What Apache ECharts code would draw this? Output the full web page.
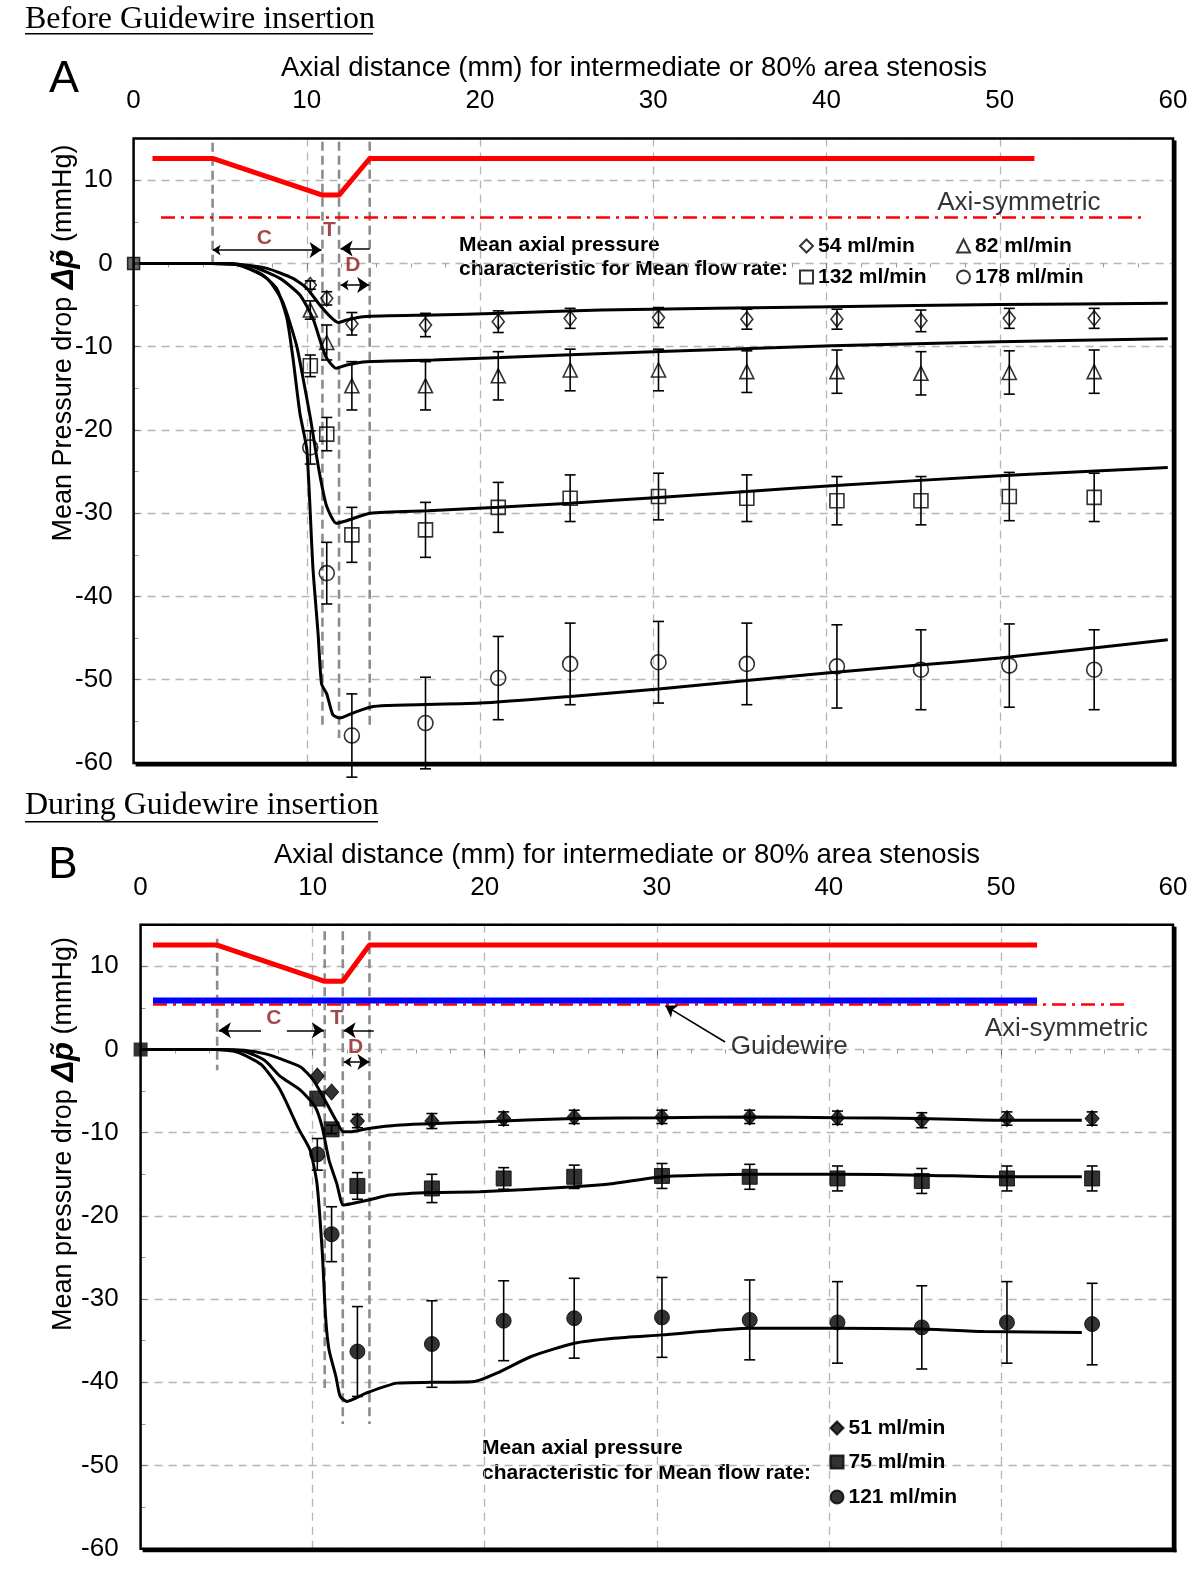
<!DOCTYPE html>
<html><head><meta charset="utf-8">
<script src="https://cdn.jsdelivr.net/npm/echarts@6/dist/echarts.min.js"></script>
<style>html,body{margin:0;padding:0;background:#fff}#c{width:1200px;height:1574px}</style>
</head><body><div id="c"></div>
<script>
// ---------- axis settings ----------
const xMin = 0, xMax = 60, xStep = 10;
const yMin = -60, yMax = 15, yStep = 10;

// ---------- Panel A: before guidewire insertion ----------
const xA = [10.2, 11.15, 12.6, 16.85, 21.05, 25.2, 30.3, 35.4, 40.6, 45.45, 50.55, 55.45];
const a54 = [-2.6, -4.2, -7.25, -7.4, -7.0, -6.6, -6.5, -6.7, -6.7, -6.9, -6.6, -6.6];
const a54Err = [0.5, 0.8, 1.35, 1.4, 1.3, 1.2, 1.2, 1.2, 1.2, 1.3, 1.2, 1.2];
const a82 = [-5.6, -9.5, -14.7, -14.7, -13.5, -12.8, -12.8, -13.0, -13.0, -13.2, -13.1, -13.0];
const a82Err = [1.1, 2.1, 2.9, 2.9, 2.9, 2.5, 2.5, 2.5, 2.6, 2.6, 2.6, 2.6];
const a132 = [-12.3, -20.5, -32.6, -32.0, -29.3, -28.2, -28.0, -28.2, -28.5, -28.5, -28.0, -28.1];
const a132Err = [1.3, 2.0, 3.3, 3.3, 3.0, 2.8, 2.8, 2.8, 2.9, 2.9, 2.9, 2.9];
const a178 = [-22.1, -37.2, -56.7, -55.2, -49.8, -48.1, -47.9, -48.1, -48.4, -48.8, -48.3, -48.8];
const a178Err = [2.0, 3.7, 5.0, 5.5, 5.0, 4.9, 4.9, 4.9, 5.0, 4.8, 5.0, 4.8];

const curveA54 = [[0,0],[4.5,0],[6,-0.1],[7.7,-0.6],[9.2,-1.8],[10.0,-3.0],[10.75,-5.0],[11.35,-6.4],[11.8,-7.1],[12.3,-6.8],[13.25,-6.4],[17.3,-6.2],[21.2,-6.0],[27,-5.6],[40.3,-5.2],[50,-4.95],[59.7,-4.8]];
const curveA82 = [[0,0],[4.5,0],[5.8,-0.1],[6.9,-0.4],[8.45,-1.8],[9.6,-3.8],[10.35,-6.6],[10.85,-9.8],[11.15,-11.4],[11.7,-12.6],[12.3,-12.2],[13.45,-11.8],[17.3,-11.6],[21.2,-11.3],[30,-10.6],[40.3,-9.9],[50,-9.4],[59.7,-9.05]];
const curveA132 = [[0,0],[4.5,0],[5.5,-0.05],[6.1,-0.15],[7.7,-1.8],[8.6,-4.6],[9.4,-9.8],[9.8,-14],[10.2,-18.5],[10.55,-23],[10.85,-26.5],[11.15,-29.2],[11.7,-31.2],[12.3,-30.9],[13.65,-30.0],[17,-29.7],[21.05,-29.3],[25.2,-28.8],[30.3,-28.1],[35.4,-27.4],[40.3,-26.7],[50,-25.5],[59.7,-24.5]];
const curveA178 = [[0,0],[4.5,0],[5.7,-0.05],[7.3,-1.2],[8.25,-3],[8.85,-6.6],[9.2,-11.4],[9.6,-18],[10.0,-22.4],[10.35,-36.5],[10.65,-44.5],[10.85,-50.5],[11.15,-51.7],[11.5,-54.2],[11.9,-54.6],[12.65,-54.0],[13.65,-53.3],[14.6,-53.1],[20.0,-52.8],[25.2,-52.0],[30.3,-51.1],[35.4,-50.1],[40,-49.2],[45,-48.3],[50,-47.4],[59.7,-45.2]];

const profileA = [[1.09,12.6],[4.56,12.6],[10.9,8.2],[11.86,8.2],[13.63,12.6],[52.0,12.6]];
const axiA = [[1.58,5.5],[58.26,5.5]];
const stenA = [[4.56,14.5,-0.5],[10.9,14.6,-56],[11.86,14.6,-57],[13.63,14.6,-56]];

// ---------- Panel B: during guidewire insertion ----------
const xB = [10.27, 11.1, 12.6, 16.93, 21.1, 25.2, 30.3, 35.4, 40.5, 45.4, 50.35, 55.3];
const b51 = [-3.2, -5.1, -8.6, -8.6, -8.3, -8.1, -8.1, -8.1, -8.2, -8.5, -8.3, -8.3];
const b51Err = [0, 0, 0.8, 0.9, 0.8, 0.8, 0.8, 0.8, 0.8, 0.9, 0.8, 0.8];
const b75 = [-5.9, -9.6, -16.4, -16.7, -15.5, -15.3, -15.2, -15.3, -15.5, -15.8, -15.5, -15.5];
const b75Err = [0, 0.5, 1.6, 1.7, 1.3, 1.4, 1.5, 1.5, 1.5, 1.5, 1.5, 1.5];
const b121 = [-12.6, -22.2, -36.3, -35.4, -32.6, -32.3, -32.2, -32.5, -32.8, -33.4, -32.8, -33.0];
const b121Err = [1.9, 3.3, 5.4, 5.2, 4.8, 4.8, 4.8, 4.8, 4.9, 5.0, 4.9, 4.9];

const curveB51 = [[0,0],[4.4,0],[6,-0.1],[7.2,-0.5],[8.1,-1.1],[9.3,-2.1],[10.05,-3.7],[10.82,-6.5],[11.4,-8.7],[11.78,-9.9],[12.17,-9.9],[13.24,-9.5],[14.9,-9.1],[19.7,-8.7],[25.2,-8.3],[30.3,-8.2],[35.4,-8.1],[40.5,-8.2],[45.4,-8.3],[50.4,-8.5],[54.7,-8.5]];
const curveB75 = [[0,0],[4.4,0],[6,-0.2],[7.2,-1.3],[8.1,-3.2],[9.3,-4.9],[10.15,-6.9],[10.55,-9.3],[10.95,-13.3],[11.4,-16.1],[11.78,-18.7],[12.3,-18.5],[13.24,-18.1],[14.5,-17.5],[16.9,-17.2],[19.7,-17.1],[25.2,-16.5],[27.5,-16.1],[30.3,-15.3],[35.4,-15.0],[40.5,-15.0],[45.4,-15.1],[50.4,-15.3],[54.7,-15.3]];
const curveB121 = [[0,0],[4.4,0],[5.6,-0.3],[7.0,-1.8],[8.1,-4.8],[9.2,-9.6],[9.85,-12.1],[10.25,-16.1],[10.55,-24.1],[10.75,-32.1],[10.95,-36.1],[11.35,-39.3],[11.6,-41.7],[12.0,-42.3],[13.1,-41.3],[14.9,-40.1],[16.9,-40],[19.4,-39.9],[20.7,-38.9],[22.7,-36.9],[25.2,-35.3],[27.5,-34.7],[30.3,-34.3],[35.4,-33.5],[40.5,-33.5],[45.4,-33.6],[49,-33.9],[54.7,-34]];

const profileB = [[0.72,12.55],[4.45,12.55],[10.7,8.2],[11.75,8.2],[13.3,12.55],[52.1,12.55]];
const guidewireB = [[0.72,5.9],[52.1,5.9]];
const axiB = [[0.72,5.4],[57.2,5.4]];
const stenB = [[4.45,13.3,-2.5],[10.7,14.2,-40.7],[11.75,14.2,-45],[13.3,14.2,-45]];

// ---------- annotations (data coordinates) ----------
const labelsA = [{name:'C', value:[7.55,3.0]}, {name:'T', value:[11.3,4.0]}, {name:'D', value:[12.65,-0.2]}];
const labelsB = [{name:'C', value:[7.75,3.8]}, {name:'T', value:[11.4,3.8]}, {name:'D', value:[12.5,0.3]}];
const textA = [{name:'Axi-symmetric', value:[51.1,7.25]}];
const textB = [{name:'Axi-symmetric', value:[53.8,2.46]}, {name:'Guidewire', value:[37.7,0.3]}];
const dblArrowsA = [[[4.56,1.6],[10.85,1.6]], [[11.95,-2.6],[13.6,-2.6]]];
const oneArrowsA = [[[13.63,1.8],[11.95,1.8]]];
const dblArrowsB = [[[11.8,-1.5],[13.3,-1.5]]];
const oneArrowsB = [[[7.0,2.3],[4.55,2.3]], [[8.5,2.3],[10.65,2.3]], [[13.55,2.3],[11.8,2.3]]];
const guideArrowB = [[[33.97,0.9],[30.5,5.25]]];

const FONT = "'Liberation Sans', Arial, Helvetica, sans-serif";
const SERIF = "'Liberation Serif', 'Times New Roman', serif";
const DARKRED = '#8b1a1a';

// plot frames (pixel boxes of the two grids)
const boxA = {left: 133.6, top: 138.5, width: 1039.4, height: 624.5};
const boxB = {left: 140.6, top: 924.7, width: 1032.4, height: 624};

function xAxisCfg(gi, margin) {
  return {
    gridIndex: gi, type: 'value', position: 'top', min: xMin, max: xMax, interval: xStep,
    axisLine: {show: false},
    axisTick: {show: true, inside: true, length: 6, lineStyle: {color: '#777', width: 1}},
    minorTick: {show: true, splitNumber: 5, length: 4, lineStyle: {color: '#999', width: 1}},
    axisLabel: {color: '#000', fontSize: 26, fontFamily: FONT, margin: margin},
    splitLine: {show: true, lineStyle: {color: '#b5b5b5', width: 1.3, type: [8, 6]}}
  };
}
function yAxisCfg(gi, margin) {
  return {
    gridIndex: gi, type: 'value', min: yMin, max: yMax, interval: yStep,
    axisLine: {show: false},
    axisTick: {show: true, inside: true, length: 6, lineStyle: {color: '#777'}},
    minorTick: {show: true, splitNumber: 2, length: 5, lineStyle: {color: '#999'}},
    axisLabel: {color: '#000', fontSize: 26, fontFamily: FONT, margin: margin,
      formatter: v => (v % 10 === 0 && v <= 10) ? String(v) : ''},
    splitLine: {show: true, lineStyle: {color: '#b5b5b5', width: 1.3, type: [8, 6]}}
  };
}
function pairs(xs, ys) { return xs.map((x, i) => [x, ys[i]]); }
function errSeries(gi, xs, ys, es) {
  return {
    type: 'custom', xAxisIndex: gi, yAxisIndex: gi, clip: false, z: 4, silent: true,
    data: xs.map((x, i) => [x, ys[i], es[i]]),
    encode: {x: 0, y: 1},
    renderItem(params, api) {
      const x = api.value(0), y = api.value(1), e = api.value(2);
      if (!e) return {type: 'group', children: []};
      const t = api.coord([x, y + e]), b = api.coord([x, y - e]);
      const w = 5.5, st = {stroke: '#000', lineWidth: 1.6};
      return {type: 'group', children: [
        {type: 'line', shape: {x1: t[0], y1: t[1], x2: b[0], y2: b[1]}, style: st},
        {type: 'line', shape: {x1: t[0]-w, y1: t[1], x2: t[0]+w, y2: t[1]}, style: st},
        {type: 'line', shape: {x1: b[0]-w, y1: b[1], x2: b[0]+w, y2: b[1]}, style: st}
      ]};
    }
  };
}
function markerSeries(gi, name, xs, ys, symbol, size, filled) {
  return {
    type: 'scatter', name: name, xAxisIndex: gi, yAxisIndex: gi, clip: false, z: 5,
    symbol: symbol, symbolSize: size,
    itemStyle: filled ? {color: '#000', borderColor: '#000', borderWidth: 1}
                      : {color: 'rgba(255,255,255,0)', borderColor: '#000', borderWidth: 1.6},
    data: pairs(xs, ys)
  };
}
function curveSeries(gi, data) {
  return {type: 'line', xAxisIndex: gi, yAxisIndex: gi, data: data, showSymbol: false,
    smooth: 0.2, z: 3, silent: true, lineStyle: {color: '#000', width: 3}};
}
function plainLine(gi, data, color, width, type, z) {
  return {type: 'line', xAxisIndex: gi, yAxisIndex: gi, data: data, showSymbol: false,
    silent: true, z: z || 2, lineStyle: {color: color, width: width, type: type || 'solid'}};
}
function stenSeries(gi, list) {
  return list.map(s => plainLine(gi, [[s[0], s[1]], [s[0], s[2]]], '#8c8c8c', 2.6, [9, 5], 2));
}
function arrowSeries(gi, list, symbols, size) {
  return {type: 'lines', coordinateSystem: 'cartesian2d', xAxisIndex: gi, yAxisIndex: gi,
    symbol: symbols, symbolSize: size, silent: true, z: 4,
    lineStyle: {color: '#000', width: 1.5, opacity: 1},
    data: list.map(c => ({coords: c}))};
}
function textSeries(gi, data, color, size, weight) {
  return {type: 'scatter', xAxisIndex: gi, yAxisIndex: gi, symbolSize: 1, clip: false, silent: true, z: 6,
    itemStyle: {color: 'rgba(0,0,0,0)'},
    label: {show: true, position: 'inside', formatter: '{b}', color: color,
      fontSize: size, fontWeight: weight, fontFamily: FONT},
    data: data};
}
function legendItem(name, left, top) {
  return {left: left, top: top, padding: 0, itemWidth: 13, itemHeight: 13, selectedMode: false,
    data: [name], textStyle: {fontSize: 21, fontWeight: 'bold', fontFamily: FONT, color: '#000', lineHeight: 22}};
}
function frameGraphics(b) {
  const r = b.left + b.width, bt = b.top + b.height;
  return [
    {type: 'rect', z: 100, silent: true, shape: {x: b.left, y: b.top, width: b.width, height: b.height},
     style: {fill: null, stroke: '#000', lineWidth: 2.5}},
    {type: 'line', z: 100, silent: true, shape: {x1: r + 2, y1: b.top + 2, x2: r + 2, y2: bt + 3.5},
     style: {stroke: '#000', lineWidth: 3}},
    {type: 'line', z: 100, silent: true, shape: {x1: b.left + 2, y1: bt + 2, x2: r + 3.5, y2: bt + 2},
     style: {stroke: '#000', lineWidth: 3}}
  ];
}

const series = [
  // Panel A
  plainLine(0, profileA, '#ff0000', 5, 'solid', 3),
  plainLine(0, axiA, '#ff0000', 2.5, [14, 6, 3, 6], 3),
  ...stenSeries(0, stenA),
  curveSeries(0, curveA54), curveSeries(0, curveA82), curveSeries(0, curveA132), curveSeries(0, curveA178),
  errSeries(0, xA, a54, a54Err), errSeries(0, xA, a82, a82Err),
  errSeries(0, xA, a132, a132Err), errSeries(0, xA, a178, a178Err),
  markerSeries(0, '54 ml/min', xA, a54, 'diamond', [12, 15], false),
  markerSeries(0, '82 ml/min', xA, a82, 'triangle', [14, 14], false),
  markerSeries(0, '132 ml/min', xA, a132, 'rect', [14, 14], false),
  markerSeries(0, '178 ml/min', xA, a178, 'circle', 15, false),
  {type: 'scatter', xAxisIndex: 0, yAxisIndex: 0, clip: false, z: 6, symbol: 'rect', symbolSize: 12,
   itemStyle: {color: '#444', borderColor: '#000', borderWidth: 1.5}, data: [[0, 0]]},
  arrowSeries(0, dblArrowsA, ['arrow', 'arrow'], [8, 12]),
  arrowSeries(0, oneArrowsA, ['none', 'arrow'], [8, 12]),
  textSeries(0, labelsA, DARKRED, 21, 'bold'),
  textSeries(0, textA, '#000', 26, 'normal'),
  // Panel B
  plainLine(1, profileB, '#ff0000', 5, 'solid', 3),
  plainLine(1, axiB, '#ff0000', 2.5, [14, 6, 3, 6], 3),
  plainLine(1, guidewireB, '#0000ff', 6, 'solid', 3),
  ...stenSeries(1, stenB),
  curveSeries(1, curveB51), curveSeries(1, curveB75), curveSeries(1, curveB121),
  errSeries(1, xB, b51, b51Err), errSeries(1, xB, b75, b75Err), errSeries(1, xB, b121, b121Err),
  markerSeries(1, '51 ml/min', xB, b51, 'diamond', [14, 16], true),
  markerSeries(1, '75 ml/min', xB, b75, 'rect', [15, 15], true),
  markerSeries(1, '121 ml/min', xB, b121, 'circle', 15, true),
  {type: 'scatter', xAxisIndex: 1, yAxisIndex: 1, clip: false, z: 6, symbol: 'rect', symbolSize: 14,
   itemStyle: {color: '#000'}, data: [[0, 0]]},
  arrowSeries(1, dblArrowsB, ['arrow', 'arrow'], [8, 12]),
  arrowSeries(1, oneArrowsB, ['none', 'arrow'], [8, 12]),
  arrowSeries(1, guideArrowB, ['none', 'arrow'], [7, 11]),
  textSeries(1, labelsB, DARKRED, 21, 'bold'),
  textSeries(1, textB, '#000', 26, 'normal')
];

const yNameRich = {d: {fontStyle: 'italic', fontWeight: 'bold', fontSize: 31, fontFamily: FONT, fill: '#000'}};

const option = {
  animation: false,
  backgroundColor: '#fff',
  grid: [
    {left: boxA.left, top: boxA.top, width: boxA.width, height: boxA.height, show: false},
    {left: boxB.left, top: boxB.top, width: boxB.width, height: boxB.height, show: false}
  ],
  xAxis: [xAxisCfg(0, 25), xAxisCfg(1, 24)],
  yAxis: [yAxisCfg(0, 21), yAxisCfg(1, 22)],
  legend: [
    legendItem('54 ml/min', 799, 235), legendItem('82 ml/min', 956, 235),
    legendItem('132 ml/min', 799, 266), legendItem('178 ml/min', 956, 266),
    legendItem('51 ml/min', 829.5, 1417), legendItem('75 ml/min', 829.5, 1451),
    legendItem('121 ml/min', 829.5, 1486)
  ],
  graphic: [
    ...frameGraphics(boxA), ...frameGraphics(boxB),
    {type: 'text', left: 25, top: 4, style: {text: 'Before Guidewire insertion', font: '32px ' + SERIF, fill: '#000'}},
    {type: 'rect', shape: {x: 25, y: 33, width: 348, height: 1.6}, style: {fill: '#000'}},
    {type: 'text', left: 25, top: 790, style: {text: 'During Guidewire insertion', font: '32px ' + SERIF, fill: '#000'}},
    {type: 'rect', shape: {x: 25, y: 821, width: 353, height: 1.6}, style: {fill: '#000'}},
    {type: 'text', x: 64, y: 80, style: {text: 'A', font: '45px ' + FONT, fill: '#000', align: 'center', verticalAlign: 'middle'}},
    {type: 'text', x: 63, y: 866, style: {text: 'B', font: '44px ' + FONT, fill: '#000', align: 'center', verticalAlign: 'middle'}},
    {type: 'text', x: 281, y: 68.3, style: {text: 'Axial distance (mm) for intermediate or 80% area stenosis', font: '27.5px ' + FONT, fill: '#000', align: 'left', verticalAlign: 'middle'}},
    {type: 'text', x: 274, y: 855, style: {text: 'Axial distance (mm) for intermediate or 80% area stenosis', font: '27.5px ' + FONT, fill: '#000', align: 'left', verticalAlign: 'middle'}},
    {type: 'text', x: 64, y: 343, rotation: Math.PI / 2,
     style: {text: 'Mean Pressure drop {d|Δp̃} (mmHg)', font: '27px ' + FONT, fill: '#000', align: 'center', verticalAlign: 'middle', rich: yNameRich}},
    {type: 'text', x: 64, y: 1134, rotation: Math.PI / 2,
     style: {text: 'Mean pressure drop {d|Δp̃} (mmHg)', font: '27px ' + FONT, fill: '#000', align: 'center', verticalAlign: 'middle', rich: yNameRich}},
    {type: 'text', x: 459, y: 233, style: {text: 'Mean axial pressure\ncharacteristic for Mean flow rate:', font: 'bold 21px ' + FONT, fill: '#000', lineHeight: 24, align: 'left', verticalAlign: 'top'}},
    {type: 'text', x: 482, y: 1436, style: {text: 'Mean axial pressure\ncharacteristic for Mean flow rate:', font: 'bold 21px ' + FONT, fill: '#000', lineHeight: 25, align: 'left', verticalAlign: 'top'}}
  ],
  series: series
};

const chart = echarts.init(document.getElementById('c'), null, {renderer: 'canvas', width: 1200, height: 1574});
chart.setOption(option);
</script>
</body></html>
